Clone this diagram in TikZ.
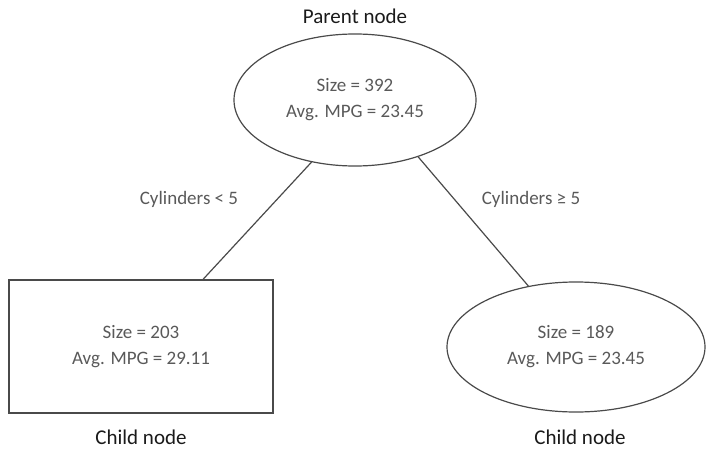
\documentclass[tikz,border=0pt]{standalone}
\usepackage{fontspec}
\setmainfont{Carlito}
\usetikzlibrary{shapes.geometric}
\definecolor{txtgray}{HTML}{595959}
\definecolor{linegray}{HTML}{4A4A4A}
\definecolor{lblblack}{HTML}{1A1A1A}
\begin{document}
\begin{tikzpicture}[x=1pt,y=-1pt,
  inner/.style={align=center,text=txtgray,font=\fontsize{19}{26}\selectfont,draw=linegray,line width=1.2pt,inner sep=0pt},
  ell/.style={inner,ellipse},
  box/.style={inner,rectangle},
  caplabel/.style={text=lblblack,font=\fontsize{21}{23}\selectfont,inner sep=0pt},
  cond/.style={text=txtgray,font=\fontsize{19}{23}\selectfont,inner sep=0pt},
  link/.style={draw=linegray,line width=1.2pt}]
\useasboundingbox (0,0) rectangle (706,449);
\node[ell,minimum width=242pt,minimum height=132pt] (p) at (355,100) {Size = 392\\Avg. MPG = 23.45};
\node[box,minimum width=264pt,minimum height=133pt] (l) at (141,346.5) {Size = 203\\Avg. MPG = 29.11};
\node[ell,minimum width=258pt,minimum height=130pt] (r) at (576,347) {Size = 189\\Avg. MPG = 23.45};
\node[caplabel] (pc) at (355,16) {Parent node};
\node[caplabel] (lc) at (141,437) {Child node};
\node[caplabel] (rc) at (580,437) {Child node};
\draw[link] (p.-125) -- ([xshift=62pt]l.north);
\draw[link] (p.-42) -- (r.128);
\node[cond] (c1) at (189,199) {Cylinders < 5};
\node[cond] (c2) at (531,199) {Cylinders ≥ 5};
\end{tikzpicture}
\end{document}
